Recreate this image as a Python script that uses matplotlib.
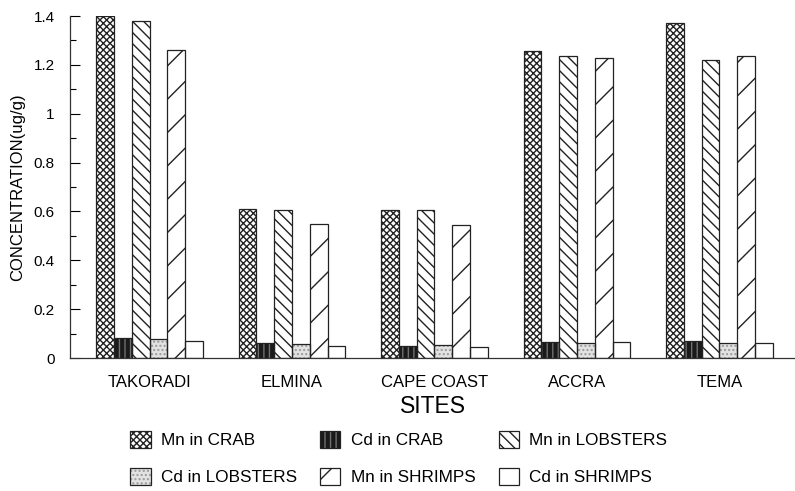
import matplotlib
matplotlib.use('Agg')
import matplotlib.pyplot as plt
import numpy as np
from matplotlib.patches import Patch
from matplotlib.legend_handler import HandlerTuple
from matplotlib.ticker import MultipleLocator

plt.rcParams['font.family'] = ['Liberation Sans', 'DejaVu Sans']
plt.rcParams['hatch.linewidth'] = 1.0

sites = ['TAKORADI', 'ELMINA', 'CAPE COAST', 'ACCRA', 'TEMA']
series_names = ['Mn in CRAB', 'Cd in CRAB', 'Mn in LOBSTERS',
                'Cd in LOBSTERS', 'Mn in SHRIMPS', 'Cd in SHRIMPS']
mn_crab = [1.40, 0.61, 0.605, 1.255, 1.37]
cd_crab = [0.082, 0.062, 0.05, 0.066, 0.07]
mn_lobsters = [1.38, 0.607, 0.605, 1.235, 1.22]
cd_lobsters = [0.078, 0.057, 0.055, 0.062, 0.062]
mn_shrimps = [1.26, 0.55, 0.546, 1.227, 1.235]
cd_shrimps = [0.07, 0.05, 0.045, 0.066, 0.06]
yticks = [0, 0.2, 0.4, 0.6, 0.8, 1, 1.2, 1.4]
ytick_labels = ['0', '0.2', '0.4', '0.6', '0.8', '1', '1.2', '1.4']

values = [mn_crab, cd_crab, mn_lobsters, cd_lobsters, mn_shrimps, cd_shrimps]
# (facecolor, hatch, hatchcolor)
styles = [
    ('white', 'xxxxx', '#222222'),
    ('#1a1a1a', '|||', '#707070'),
    ('white', '\\\\\\', '#222222'),
    ('#e2e2e2', '....', '#9a9a9a'),
    ('white', '/', '#222222'),
    ('white', '', '#222222'),
]

fig = plt.figure(figsize=(7.95, 4.91), dpi=100)
ax = fig.add_axes([70 / 795, 1 - 358 / 491, (795 - 70) / 795, (358 - 16) / 491])

x = np.arange(len(sites))
w = 0.125
handles = []
for i, (vals, (fc, h, hc)) in enumerate(zip(values, styles)):
    pos = x + (i - 2.5) * w
    ax.bar(pos, vals, w, color=fc, hatch=h, edgecolor=hc, linewidth=0, zorder=2)
    ax.bar(pos, vals, w, fill=False, edgecolor='#222222', linewidth=0.9, zorder=3)
    handles.append((Patch(facecolor=fc, hatch=h, edgecolor=hc, linewidth=0),
                    Patch(fill=False, edgecolor='#222222', linewidth=0.9)))

ax.set_xlim(-0.558, 4.53)
ax.set_ylim(0, 1.4)
ax.set_yticks(yticks)
ax.set_yticklabels(ytick_labels)
ax.yaxis.set_minor_locator(MultipleLocator(0.1))
ax.tick_params(axis='y', which='major', direction='in', length=7, width=0.8,
               labelsize=11, pad=11)
ax.tick_params(axis='y', which='minor', direction='in', length=4, width=0.8)
ax.set_xticks(x)
ax.set_xticklabels(sites)
ax.tick_params(axis='x', length=0, labelsize=12, pad=12)
for s in ['top', 'right']:
    ax.spines[s].set_visible(False)
for s in ['left', 'bottom']:
    ax.spines[s].set_linewidth(0.9)
    ax.spines[s].set_color('#333333')

ax.set_xlabel('SITES', fontsize=16.5, labelpad=4)
ax.set_ylabel('CONCENTRATION(ug/g)', fontsize=12, labelpad=6)

# legend order for 2 rows x 3 columns (column-major fill)
order = [0, 3, 1, 4, 2, 5]
leg = fig.legend([handles[k] for k in order], [series_names[k] for k in order],
                 handler_map={tuple: HandlerTuple(ndivide=1, pad=0)},
                 ncol=3, loc='upper left', bbox_to_anchor=(130 / 795, 1 - 431 / 491),
                 frameon=False, fontsize=12.3, handlelength=1.2, handleheight=1.15,
                 handletextpad=0.6, columnspacing=1.35, labelspacing=1.15,
                 borderaxespad=0, borderpad=0)

fig.savefig('out.png', dpi=100)
